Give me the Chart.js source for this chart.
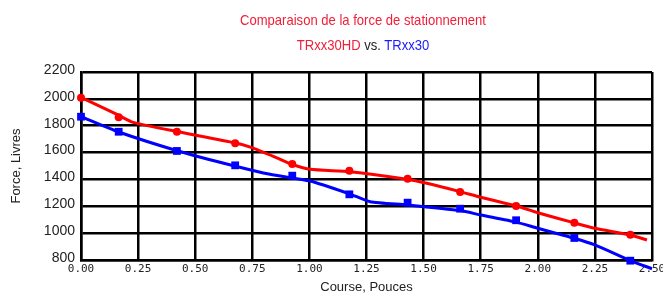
<!DOCTYPE html>
<html>
<head>
<meta charset="utf-8">
<script src="https://cdn.jsdelivr.net/npm/chart.js@4/dist/chart.umd.min.js"></script>
<style>
  body { margin: 0; background: #fff; }
  #wrap { position: relative; width: 663px; height: 295px; overflow: hidden; }
  .ttl { position: absolute; left: 0; width: 726px; text-align: center;
         font-family: "Liberation Sans", Arial, sans-serif;
         font-size: 15px; line-height: 18px; white-space: nowrap;
         transform: scaleX(0.87); transform-origin: 363px 50%; }
</style>
</head>
<body>
<div id="wrap">
  <canvas id="c" width="663" height="295"></canvas>
  <div class="ttl" style="top:11px;color:#f0203a">Comparaison de la force de stationnement</div>
  <div class="ttl" style="top:36px"><span style="color:#f0203a">TRxx30HD</span> <span style="color:#222">vs.</span> <span style="color:#1a1aff">TRxx30</span></div>
</div>
<script>
// measured points (course in inches, force in lbs)
const course = [0, 0.165, 0.42, 0.675, 0.925, 1.175, 1.43, 1.66, 1.905, 2.16, 2.405];
const forceHD = [2008, 1863, 1755, 1669, 1515, 1465, 1405, 1306, 1202, 1078, 988];
const force30 = [1867, 1755, 1612, 1505, 1428, 1289, 1227, 1182, 1096, 964, 795];

// fitted curves
const fitHDx = [0, 0.162, 0.228, 0.425, 0.673, 0.745, 0.863, 0.923, 1.003, 1.178, 1.427, 1.514, 1.66, 1.75, 1.908, 2.0, 2.156, 2.25, 2.405, 2.478];
const fitHDy = [2011, 1880, 1825, 1755, 1673, 1639, 1557, 1513, 1475, 1457, 1401, 1371, 1309, 1267, 1202, 1152, 1078, 1036, 986, 949];
const fit30x = [0, 0.162, 0.425, 0.673, 0.828, 1.003, 1.178, 1.266, 1.427, 1.66, 1.75, 1.905, 2.0, 2.156, 2.25, 2.405, 2.5];
const fit30y = [1867, 1755, 1612, 1500, 1438, 1388, 1291, 1234, 1210, 1168, 1135, 1082, 1036, 964, 912, 795, 735];

const xTicks = [0, 0.25, 0.5, 0.75, 1, 1.25, 1.5, 1.75, 2, 2.25, 2.5];
const yTicks = [800, 1000, 1200, 1400, 1600, 1800, 2000, 2200];

const RED = '#ff0000', BLUE = '#0000ff';
const sans = '"Liberation Sans", Arial, sans-serif';
const pts = (xs, ys) => xs.map((x, i) => ({ x: x, y: ys[i] }));

new Chart(document.getElementById('c'), {
  type: 'scatter',
  data: {
    datasets: [
      { type: 'line', data: pts(fitHDx, fitHDy), borderColor: RED, borderWidth: 3, pointRadius: 0, tension: 0.2, clip: false },
      { type: 'line', data: pts(fit30x, fit30y), borderColor: BLUE, borderWidth: 3, pointRadius: 0, tension: 0.2, clip: false },
      { data: pts(course, forceHD), backgroundColor: RED, borderColor: RED, borderWidth: 0, pointStyle: 'circle', pointRadius: 4, clip: false },
      { data: pts(course, force30), backgroundColor: BLUE, borderColor: BLUE, borderWidth: 0, pointStyle: 'rect', pointRadius: 5.5, clip: false }
    ]
  },
  options: {
    responsive: false,
    animation: false,
    devicePixelRatio: 1,
    layout: { padding: { top: 72, right: 11, left: 0, bottom: 0 } },
    plugins: { legend: { display: false }, tooltip: { enabled: false } },
    scales: {
      x: {
        type: 'linear', min: 0, max: 2.5,
        afterBuildTicks: s => { s.ticks = xTicks.map(v => ({ value: v })); },
        afterFit: s => { s.height = 35; s.paddingLeft = 0; s.paddingRight = 0; },
        ticks: { padding: 4, color: '#222', font: { family: '"DejaVu Sans Mono", monospace', size: 11, lineHeight: 1 },
                 callback: v => v.toFixed(2), maxRotation: 0, autoSkip: false },
        grid: { color: '#000', lineWidth: 2.5, drawTicks: false },
        border: { color: '#000', width: 2.5 },
        title: { display: true, text: 'Course, Pouces', color: '#222', font: { family: sans, size: 13, lineHeight: 1 }, padding: { top: 0, bottom: 1 } }
      },
      y: {
        min: 800, max: 2200,
        afterBuildTicks: s => { s.ticks = yTicks.map(v => ({ value: v })); },
        afterFit: s => { s.width = 81; s.paddingTop = 0; s.paddingBottom = 0; },
        ticks: { padding: 6, labelOffset: -2, color: '#222', font: { family: sans, size: 14 }, callback: v => String(v) },
        grid: { color: '#000', lineWidth: 2.5, drawTicks: false },
        border: { color: '#000', width: 2.5 },
        title: { display: true, text: 'Force, Livres', color: '#222', font: { family: sans, size: 13, lineHeight: 1 }, padding: { top: 10, bottom: 0 } }
      }
    }
  }
});
</script>
</body>
</html>
